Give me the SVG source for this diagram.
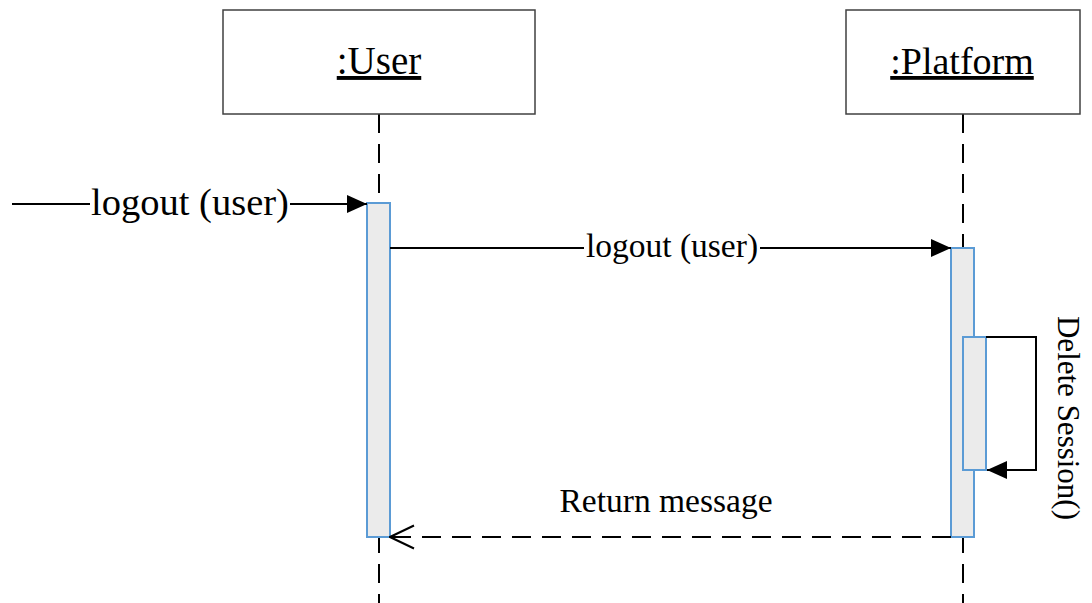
<svg xmlns="http://www.w3.org/2000/svg" width="1092" height="603" viewBox="0 0 1092 603">
<style>
.box{fill:#fff;stroke:#404040;stroke-width:1.5}
.life{stroke:#000;stroke-width:2;stroke-dasharray:19 11;fill:none}
.act{fill:#ebebeb;stroke:#5b9bd5;stroke-width:2}
.msg{stroke:#000;stroke-width:2;fill:none}
.ret{stroke:#000;stroke-width:2;fill:none;stroke-dasharray:19 11}
</style>
<defs>
<marker id="fill" markerWidth="20" markerHeight="18" refX="20" refY="9" orient="auto" markerUnits="userSpaceOnUse">
<path d="M0,0 L20,9 L0,18 Z" fill="#000"/>
</marker>
<marker id="open" markerWidth="26" markerHeight="26" refX="25" refY="13" orient="auto" markerUnits="userSpaceOnUse">
<path d="M1,1.5 L25,13 L1,24.5" fill="none" stroke="#000" stroke-width="2"/>
</marker>
</defs>
<g id="lifelines">
<line class="life" x1="379" y1="114" x2="379" y2="603"/>
<line class="life" x1="963" y1="114" x2="963" y2="603"/>
</g>
<g font-family="Liberation Serif, Times New Roman, serif" fill="#000">
<g id="user">
<rect class="box" x="223" y="10" width="312" height="104"/>
<text x="379" y="74" font-size="39" text-anchor="middle" text-decoration="underline">:User</text>
</g>
<g id="platform">
<rect class="box" x="846" y="10" width="234" height="104"/>
<text x="962" y="74" font-size="38" text-anchor="middle" text-decoration="underline">:Platform</text>
</g>
<g id="activations">
<rect class="act" x="367" y="203" width="23" height="334"/>
<rect class="act" x="951" y="248" width="23" height="289"/>
<rect class="act" x="963" y="337" width="23" height="133"/>
</g>
<g id="connectors">
<line class="msg" x1="12" y1="204" x2="367" y2="204" marker-end="url(#fill)"/>
<line class="msg" x1="390" y1="248" x2="951" y2="248" marker-end="url(#fill)"/>
<polyline class="msg" points="986,337 1036,337 1036,470 987,470" marker-end="url(#fill)"/>
<line class="ret" x1="951" y1="537" x2="390" y2="537" marker-end="url(#open)"/>
</g>
<g id="labels">
<rect x="90" y="184" width="200" height="42" fill="#fff"/>
<text x="190" y="215" font-size="38.5" text-anchor="middle">logout (user)</text>
<rect x="584" y="230" width="176" height="36" fill="#fff"/>
<text x="672" y="257" font-size="33.5" text-anchor="middle">logout (user)</text>
<text x="666" y="512" font-size="33.5" text-anchor="middle">Return message</text>
<text font-size="31" text-anchor="middle" transform="translate(1058,418) rotate(90)">Delete Session()</text>
</g>
</g>
</svg>
